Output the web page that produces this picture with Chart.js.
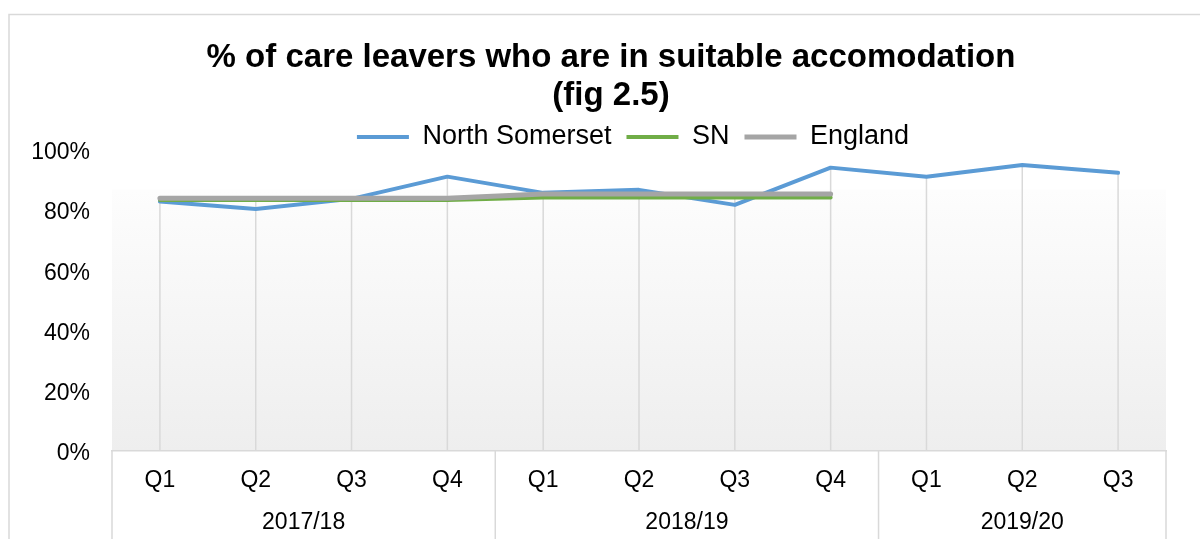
<!DOCTYPE html>
<html>
<head>
<meta charset="utf-8">
<script src="https://cdn.jsdelivr.net/npm/chart.js@4.4.0/dist/chart.umd.min.js"></script>
<style>
  html, body { margin: 0; padding: 0; background: #fff; }
</style>
</head>
<body>
<canvas id="chart" width="1200" height="539"></canvas>
<script>
const quarters = ['Q1', 'Q2', 'Q3', 'Q4', 'Q1', 'Q2', 'Q3', 'Q4', 'Q1', 'Q2', 'Q3']
const years = ['2017/18', '2018/19', '2019/20']
const yearSpan = [4, 4, 3]

// % in suitable accommodation per quarter
const northSomerset = [83.0, 80.5, 83.9, 91.3, 85.9, 86.9, 81.9, 94.3, 91.3, 95.2, 92.6]
const statNeighbours = [83.5, 83.5, 83.5, 83.5, 84.4, 84.4, 84.4, 84.4, null, null, null]
const england = [84.1, 84.1, 84.1, 84.1, 85.5, 85.5, 85.5, 85.5, null, null, null]

const gridColor = '#d9d9d9'

Chart.defaults.font.family = '"Liberation Sans", Arial, sans-serif'
Chart.defaults.color = '#000'

// frame round the chart + grey fade behind the plot
const chartFrame = {
    id: 'chartFrame',
    beforeDraw(chart){
        const { ctx, chartArea: a } = chart
        ctx.save()
        ctx.strokeStyle = gridColor
        ctx.lineWidth = 1.5
        ctx.strokeRect(9, 14.5, 1400, 800)
        const top = a.top + 39
        const g = ctx.createLinearGradient(0, top, 0, a.bottom)
        g.addColorStop(0, '#fdfdfd')
        g.addColorStop(1, '#eeeeee')
        ctx.fillStyle = g
        ctx.fillRect(a.left, top, a.right - a.left, a.bottom - top)
        ctx.restore()
    }
}

// drop lines from the highest point of each quarter to the axis
const dropLines = {
    id: 'dropLines',
    beforeDatasetsDraw(chart){
        const { ctx, chartArea: a, scales: { x, y } } = chart
        ctx.save()
        ctx.strokeStyle = gridColor
        ctx.lineWidth = 1.5
        quarters.forEach((q, i) => {
            const vals = chart.data.datasets.map(d => d.data[i]).filter(v => v != null)
            const px = x.getPixelForValue(i)
            ctx.beginPath()
            ctx.moveTo(px, y.getPixelForValue(Math.max(...vals)))
            ctx.lineTo(px, a.bottom)
            ctx.stroke()
        })
        ctx.restore()
    }
}

// second row of the category axis: financial years
const yearGroups = {
    id: 'yearGroups',
    afterDraw(chart){
        const { ctx, chartArea: a, scales: { x } } = chart
        const step = x.getPixelForValue(1) - x.getPixelForValue(0)
        ctx.save()
        ctx.strokeStyle = gridColor
        ctx.lineWidth = 1.5
        ctx.fillStyle = '#000'
        ctx.font = '23px "Liberation Sans", Arial, sans-serif'
        ctx.textAlign = 'center'
        ctx.textBaseline = 'middle'
        let start = 0
        years.forEach((yr, k) => {
            const end = start + yearSpan[k] - 1
            const left = x.getPixelForValue(start) - step / 2
            const right = x.getPixelForValue(end) + step / 2
            ctx.beginPath()
            ctx.moveTo(left, a.bottom)
            ctx.lineTo(left, chart.height)
            if(k === years.length - 1){
                ctx.moveTo(right, a.bottom)
                ctx.lineTo(right, chart.height)
            }
            ctx.stroke()
            ctx.fillText(yr, (left + right) / 2, a.bottom + 72)
            start = end + 1
        })
        ctx.restore()
    }
}

// title and legend sit a little right of the plot centre
const headerShift = {
    id: 'headerShift',
    afterLayout(chart){
        const t = chart.titleBlock
        t.left += 28
        t.right += 28
        const lg = chart.legend
        lg.top += 10
        lg.left += 50
        lg.right += 50
    }
}

const lineStyle = {
    pointRadius: 0,
    pointHoverRadius: 0,
    tension: 0,
    fill: false,
    borderCapStyle: 'round',
    borderJoinStyle: 'round'
}

new Chart(document.querySelector('#chart').getContext('2d'), {
    type: 'line',
    data: {
        labels: quarters,
        datasets: [
            { ...lineStyle, label: 'North Somerset', data: northSomerset, borderColor: '#5b9bd5', backgroundColor: '#5b9bd5', borderWidth: 4, order: 3 },
            { ...lineStyle, label: 'SN', data: statNeighbours, borderColor: '#70ad47', backgroundColor: '#70ad47', borderWidth: 4, order: 2 },
            { ...lineStyle, label: 'England', data: england, borderColor: '#a5a5a5', backgroundColor: '#a5a5a5', borderWidth: 5, order: 1 }
        ]
    },
    options: {
        responsive: false,
        animation: false,
        devicePixelRatio: 1,
        layout: { padding: { left: 0, right: 34, top: 0, bottom: 0 } },
        plugins: {
            title: {
                display: true,
                text: ['% of care leavers who are in suitable accomodation', '(fig 2.5)'],
                font: { size: 33, weight: 'bold', lineHeight: 1.15 },
                color: '#000',
                padding: { top: 39, bottom: -16.4 }
            },
            legend: {
                labels: {
                    usePointStyle: true,
                    pointStyle: 'line',
                    pointStyleWidth: 52,
                    padding: 15,
                    font: { size: 27 },
                    color: '#000',
                    sort: (a, b) => a.datasetIndex - b.datasetIndex
                }
            },
            tooltip: { enabled: false }
        },
        scales: {
            x: {
                type: 'category',
                offset: true,
                grid: { display: false, drawTicks: false },
                border: { display: true, color: gridColor, width: 1.5 },
                ticks: { font: { size: 23 }, padding: 16, maxRotation: 0, autoSkip: false },
                afterFit(scale){ scale.height = 88 }
            },
            y: {
                min: 0,
                max: 100,
                grid: { display: false, drawTicks: false },
                border: { display: false },
                ticks: { stepSize: 20, font: { size: 23 }, padding: 22, labelOffset: 2.5, callback: v => v + '%' },
                afterFit(scale){ scale.width = 112 }
            }
        }
    },
    plugins: [chartFrame, dropLines, yearGroups, headerShift]
})
</script>
</body>
</html>
